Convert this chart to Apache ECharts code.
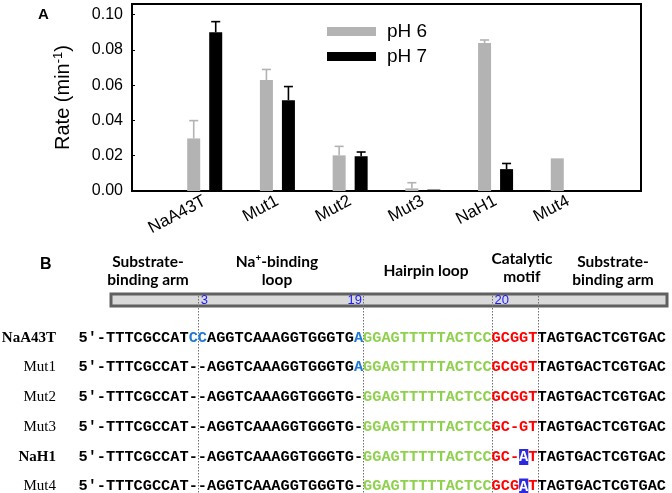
<!DOCTYPE html>
<html><head><meta charset="utf-8">
<script src="https://cdn.jsdelivr.net/npm/echarts@6/dist/echarts.min.js"></script>
<style>html,body{margin:0;padding:0;background:#fff}#c{width:672px;height:493px}</style>
</head><body><div id="c"></div>
<script>
// ---------- Panel A data ----------
const categories = ['NaA43T', 'Mut1', 'Mut2', 'Mut3', 'NaH1', 'Mut4'];
const seriesNames = ['pH 6', 'pH 7'];
const ph6 = [0.0298, 0.0629, 0.0202, 0.0015, 0.0839, 0.0185];
const ph6Upper = [0.0399, 0.0689, 0.0253, 0.0047, 0.0856, 0.0186];
const ph7 = [0.0900, 0.0515, 0.0197, 0.0008, 0.0124, 0.0005];
const ph7Upper = [0.0960, 0.0592, 0.0221, 0.0008, 0.0156, 0.0005];
const yTickStep = 0.02;

// ---------- Panel B content ----------
const rowNames = ['NaA43T', 'Mut1', 'Mut2', 'Mut3', 'NaH1', 'Mut4'];
const rowBold = [true, false, false, false, true, false];
const sequences = [
  "{k|5′-TTTCGCCAT}{b|CC}{k|AGGTCAAAGGTGGGTG}{b|A}{g|GGAGTTTTTACTCC}{r|GCGGT}{k|TAGTGACTCGTGAC}",
  "{k|5′-TTTCGCCAT--AGGTCAAAGGTGGGTG}{b|A}{g|GGAGTTTTTACTCC}{r|GCGGT}{k|TAGTGACTCGTGAC}",
  "{k|5′-TTTCGCCAT--AGGTCAAAGGTGGGTG-}{g|GGAGTTTTTACTCC}{r|GCGGT}{k|TAGTGACTCGTGAC}",
  "{k|5′-TTTCGCCAT--AGGTCAAAGGTGGGTG-}{g|GGAGTTTTTACTCC}{r|GC-GT}{k|TAGTGACTCGTGAC}",
  "{k|5′-TTTCGCCAT--AGGTCAAAGGTGGGTG-}{g|GGAGTTTTTACTCC}{r|GC-}{h|A}{r|T}{k|TAGTGACTCGTGAC}",
  "{k|5′-TTTCGCCAT--AGGTCAAAGGTGGGTG-}{g|GGAGTTTTTACTCC}{r|GCG}{h|A}{r|T}{k|TAGTGACTCGTGAC}"
];
const regionHeaders = [
  'Substrate-\nbinding arm',
  'Na{sup|+}-binding\nloop',
  'Hairpin loop',
  'Catalytic\nmotif',
  'Substrate-\nbinding arm'
];
const markerLabels = ['3', '19', '20'];
const boundaryCharIndex = [13, 31, 45, 50];

// ---------- layout ----------
const paddedCats = [''].concat(categories, ['']);
const pad = arr => [null].concat(arr, [null]);
const GRAY = '#b3b3b3';
const BAR_W = 13, BAR_GAP = 9;
const off = (BAR_W + BAR_GAP) / 2;

function errSeries(upper, base, color, offset) {
  return {
    type: 'custom', silent: true, z: 5,
    data: upper.map((u, i) => [i + 1, base[i], u]),
    renderItem: function (params, api) {
      const b = api.coord([api.value(0), api.value(1)]);
      const t = api.coord([api.value(0), api.value(2)]);
      if (Math.abs(b[1] - t[1]) < 0.8) return null;
      const x = b[0] + offset;
      return { type: 'group', children: [
        { type: 'line', shape: { x1: x, y1: b[1], x2: x, y2: t[1] }, style: { stroke: color, lineWidth: 1.6 } },
        { type: 'line', shape: { x1: x - 4.5, y1: t[1], x2: x + 4.5, y2: t[1] }, style: { stroke: color, lineWidth: 1.6 } }
      ] };
    }
  };
}

const MONO = 'Liberation Mono';
const SEQ_FS = 15.3;
const CW = SEQ_FS * 0.6;
const SEQ_X = 78.5;
const mk = (fill, extra) => Object.assign({ fill: fill, fontFamily: MONO, fontWeight: 'bold', fontSize: SEQ_FS, lineHeight: 16 }, extra || {});
const seqRich = {
  k: mk('#000'), b: mk('#1f78d1'), g: mk('#8fd14f'), r: mk('#ff0000'),
  h: mk('#ffffff', { backgroundColor: '#2a2ae0', padding: [1, 0, 0, 0], lineHeight: 15 })
};
const rowY = [338, 367.5, 397.5, 427, 457, 486.5];

const graphics = [];
graphics.push({ type: 'text', left: 38, top: 7, style: { text: 'A', fontFamily: 'Liberation Sans', fontWeight: 'bold', fontSize: 15, fill: '#000' } });
graphics.push({ type: 'text', left: 40, top: 257, style: { text: 'B', fontFamily: 'Liberation Sans', fontWeight: 'bold', fontSize: 16, fill: '#000' } });

const headerX = [148, 277, 426, 522, 613];
const headerY = [271, 271, 271, 268, 271];
regionHeaders.forEach((h, i) => {
  graphics.push({ type: 'text', x: headerX[i], y: headerY[i], z: 10, style: {
    text: h, align: 'center', verticalAlign: 'middle', fontFamily: 'Lato', fontWeight: 'bold', fontSize: 15.5, lineHeight: 18, fill: '#000',
    rich: { sup: { fontFamily: 'Lato', fontWeight: 'bold', fontSize: 10, verticalAlign: 'top', fill: '#000', lineHeight: 18 } }
  } });
});
// grey domain bar
graphics.push({ type: 'rect', z: 1, shape: { x: 111, y: 294, width: 556, height: 12 }, style: { fill: '#d9d9d9', stroke: '#606060', lineWidth: 3 } });
// boundary dotted lines
boundaryCharIndex.forEach(ci => {
  const x = Math.round(SEQ_X + ci * CW) + 0.5;
  graphics.push({ type: 'line', z: 2, shape: { x1: x, y1: 296, x2: x, y2: 493 }, style: { stroke: '#707070', lineWidth: 1, lineDash: [1.5, 1.5] } });
});
// position markers
const markerChar = [13, 31, 45];
const markerAlign = ['left', 'right', 'left'];
markerLabels.forEach((m, i) => {
  const x = SEQ_X + markerChar[i] * CW + (markerAlign[i] === 'left' ? 3 : -1);
  graphics.push({ type: 'text', z: 3, x: x, y: 300.5, style: { text: m, align: markerAlign[i], verticalAlign: 'middle', fontFamily: 'Liberation Sans', fontSize: 13, fill: '#1a1aff' } });
});
// rows
rowNames.forEach((n, i) => {
  graphics.push({ type: 'text', z: 3, x: 56, y: rowY[i], style: { text: n, align: 'right', verticalAlign: 'middle', fontFamily: 'Liberation Serif', fontWeight: rowBold[i] ? 'bold' : 'normal', fontSize: 15, fill: '#000' } });
  graphics.push({ type: 'text', z: 3, x: SEQ_X, y: rowY[i], style: { text: sequences[i], align: 'left', verticalAlign: 'middle', fontFamily: MONO, fontWeight: 'bold', fontSize: SEQ_FS, fill: '#000', rich: seqRich } });
});

const chart = echarts.init(document.getElementById('c'), null, { renderer: 'canvas' });
chart.setOption({
  animation: false,
  backgroundColor: '#fff',
  textStyle: { fontFamily: 'Liberation Sans' },
  grid: { left: 132, right: 31, top: 4, bottom: 302, show: true, borderColor: '#000', borderWidth: 2, backgroundColor: 'transparent' },
  legend: {
    data: seriesNames, orient: 'vertical', left: 322, top: 17, itemWidth: 49, itemHeight: 9, itemGap: 6,
    icon: 'rect', selectedMode: false,
    textStyle: { fontSize: 19, color: '#000', fontFamily: 'Liberation Sans', padding: [0, 0, 0, 6] }
  },
  xAxis: {
    type: 'category', data: paddedCats, boundaryGap: false,
    axisLine: { lineStyle: { color: '#000', width: 2 } }, axisTick: { show: false },
    axisLabel: { interval: 0, rotate: 28, fontSize: 17, fontFamily: 'Liberation Sans', fontStyle: 'normal', color: '#000', margin: 9 }
  },
  yAxis: {
    type: 'value', min: 0, max: 0.106, interval: yTickStep,
    name: 'Rate (min{sup|-1})', nameLocation: 'middle', nameGap: 58, nameRotate: 90,
    nameTextStyle: { fontSize: 20, fontFamily: 'Liberation Sans', color: '#000', rich: { sup: { fontSize: 13, fontFamily: 'Liberation Sans', verticalAlign: 'top', color: '#000', lineHeight: 22 } } },
    axisLine: { show: true, lineStyle: { color: '#000', width: 2 } },
    axisTick: { show: true, inside: true, length: 3, lineStyle: { color: '#000', width: 1 } },
    splitLine: { show: false },
    axisLabel: { showMaxLabel: false, fontSize: 16, fontFamily: 'Liberation Sans', color: '#000', margin: 9, formatter: v => v.toFixed(2) }
  },
  series: [
    { name: seriesNames[0], type: 'bar', data: pad(ph6), barWidth: BAR_W, barGap: (BAR_GAP / BAR_W * 100) + '%', itemStyle: { color: GRAY } },
    { name: seriesNames[1], type: 'bar', data: pad(ph7), barWidth: BAR_W, itemStyle: { color: '#000' } },
    errSeries(ph6Upper, ph6, GRAY, -off),
    errSeries(ph7Upper, ph7, '#000', off)
  ],
  graphic: graphics
});
</script></body></html>
